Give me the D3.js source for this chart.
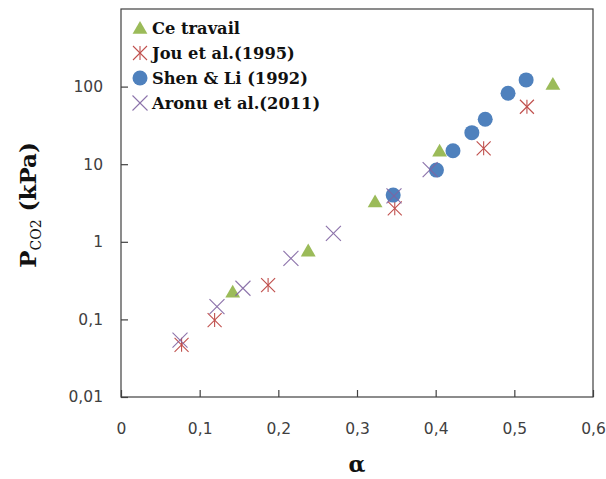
<!DOCTYPE html>
<html>
<head>
<meta charset="utf-8">
<script src="https://cdn.jsdelivr.net/npm/d3@7"></script>
<style>
  body { margin: 0; background: #fff; }
  svg { display: block; }
</style>
</head>
<body>
<div id="chart"></div>
<script>
// Data (alpha, P_CO2 in kPa)
const ceTravail = [[0.142, 0.227], [0.238, 0.77], [0.323, 3.3], [0.405, 14.9], [0.549, 108]];
const jou1995 = [[0.077, 0.047], [0.119, 0.098], [0.187, 0.277], [0.348, 2.7], [0.461, 16.0], [0.516, 55]];
const shenLi1992 = [[0.346, 4.0], [0.401, 8.4], [0.422, 14.9], [0.446, 25.5], [0.463, 37.9], [0.492, 82], [0.515, 122]];
const aronu2011 = [[0.075, 0.054], [0.122, 0.146], [0.155, 0.252], [0.216, 0.61], [0.270, 1.28], [0.347, 3.9], [0.393, 8.5]];

const xTicks = [0, 0.1, 0.2, 0.3, 0.4, 0.5, 0.6];
const yTicks = [0.01, 0.1, 1, 10, 100];

const W = 606, H = 479;
const margin = { top: 9, right: 13, bottom: 82, left: 121 };
const width = W - margin.left - margin.right;
const height = H - margin.top - margin.bottom;

const svg = d3.select("#chart").append("svg")
    .attr("width", W)
    .attr("height", H);

const g = svg.append("g")
    .attr("transform", `translate(${margin.left},${margin.top})`);

const x = d3.scaleLinear().domain([0, 0.6]).range([0, width]);
const y = d3.scaleLog().domain([0.01, 1000]).range([height, 0]);

// French decimal comma
const commaFmt = d => String(d).replace(".", ",");

// Frame
g.append("rect")
    .attr("width", width)
    .attr("height", height)
    .attr("fill", "none")
    .attr("stroke", "#404040")
    .attr("stroke-width", 1.2);

// Axes (ticks pointing inside)
const xAxis = g.append("g")
    .attr("transform", `translate(0,${height})`)
    .call(d3.axisBottom(x).tickValues(xTicks).tickSize(-7).tickPadding(26).tickFormat(commaFmt));
const yAxis = g.append("g")
    .call(d3.axisLeft(y).tickValues(yTicks).tickSize(-7).tickPadding(18).tickFormat(commaFmt));

[xAxis, yAxis].forEach(a => {
    a.select(".domain").remove();
    a.selectAll(".tick line").attr("stroke", "#404040").attr("stroke-width", 1.2);
    a.selectAll(".tick text")
        .attr("fill", "#404040")
        .attr("font-family", "'DejaVu Sans', sans-serif")
        .attr("font-size", "15.5px");
});

// Markers
const colors = { ce: "#9BBB59", jou: "#C0504D", shen: "#4F81BD", aronu: "#8064A2" };
const tri = d3.symbol().type(d3.symbolTriangle).size(95);

function drawTriangle(sel, cx, cy) {
    sel.append("path")
        .attr("d", tri())
        .attr("transform", `translate(${cx},${cy + 1.5})`)
        .attr("fill", colors.ce);
}
function drawAsterisk(sel, cx, cy) {
    const r = 7;
    const gg = sel.append("g").attr("transform", `translate(${cx},${cy})`)
        .attr("stroke", colors.jou).attr("stroke-width", 1.1);
    gg.append("line").attr("x1", -r).attr("y1", -r).attr("x2", r).attr("y2", r);
    gg.append("line").attr("x1", -r).attr("y1", r).attr("x2", r).attr("y2", -r);
    gg.append("line").attr("x1", 0).attr("y1", -r).attr("x2", 0).attr("y2", r);
}
function drawCircle(sel, cx, cy) {
    sel.append("circle").attr("cx", cx).attr("cy", cy).attr("r", 7.5).attr("fill", colors.shen);
}
function drawCross(sel, cx, cy) {
    const r = 7.5;
    const gg = sel.append("g").attr("transform", `translate(${cx},${cy})`)
        .attr("stroke", colors.aronu).attr("stroke-width", 1.1).attr("opacity", 0.9);
    gg.append("line").attr("x1", -r).attr("y1", -r).attr("x2", r).attr("y2", r);
    gg.append("line").attr("x1", -r).attr("y1", r).attr("x2", r).attr("y2", -r);
}

const marks = g.append("g");
ceTravail.forEach(d => drawTriangle(marks, x(d[0]), y(d[1])));
jou1995.forEach(d => drawAsterisk(marks, x(d[0]), y(d[1])));
shenLi1992.forEach(d => drawCircle(marks, x(d[0]), y(d[1])));
aronu2011.forEach(d => drawCross(marks, x(d[0]), y(d[1])));

// Legend
const legendItems = [
    { name: "Ce travail", draw: drawTriangle },
    { name: "Jou et al.(1995)", draw: drawAsterisk },
    { name: "Shen & Li (1992)", draw: drawCircle },
    { name: "Aronu et al.(2011)", draw: drawCross }
];
const legend = svg.append("g").attr("transform", "translate(140,28)");
legendItems.forEach((it, i) => {
    const row = legend.append("g").attr("transform", `translate(0,${i * 25})`);
    it.draw(row, 0, 0);
    row.append("text")
        .attr("x", 12)
        .attr("y", 6)
        .attr("font-family", "'DejaVu Serif', serif")
        .attr("font-weight", "bold")
        .attr("font-size", "16.3px")
        .attr("fill", "#111")
        .text(it.name);
});

// Axis titles
svg.append("text")
    .attr("x", margin.left + x(0.3))
    .attr("y", 472)
    .attr("text-anchor", "middle")
    .attr("font-family", "'DejaVu Serif', serif")
    .attr("font-weight", "bold")
    .attr("font-size", "22px")
    .attr("fill", "#111")
    .text("α");

const yTitle = svg.append("text")
    .attr("transform", "translate(36,205) rotate(-90)")
    .attr("text-anchor", "middle")
    .attr("font-family", "'DejaVu Serif', serif")
    .attr("font-weight", "bold")
    .attr("font-size", "23px")
    .attr("fill", "#111");
yTitle.append("tspan").text("P");
yTitle.append("tspan").attr("font-size", "14px").attr("font-weight", "normal").attr("dy", 5).text("CO2");
yTitle.append("tspan").attr("dy", -5).text(" (kPa)");
</script>
</body>
</html>
